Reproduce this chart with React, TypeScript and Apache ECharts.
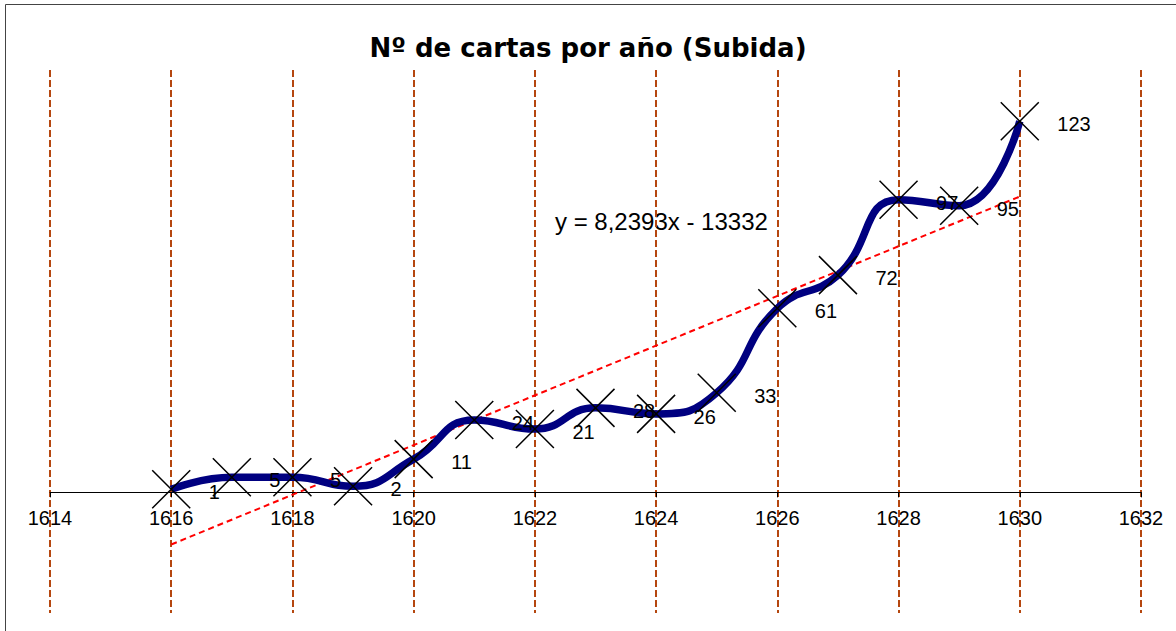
import React, { useEffect, useRef } from "react";
import * as echarts from "echarts";

const years = [1616, 1617, 1618, 1619, 1620, 1621, 1622, 1623, 1624, 1625, 1626, 1627, 1628, 1629, 1630];
const cartas = [1, 5, 5, 2, 11, 24, 21, 28, 26, 33, 61, 72, 97, 95, 123];
const trendSlope = 8.2393;
const trendIntercept = -13332;
const trendText = "y = 8,2393x - 13332";
const titleText = "Nº de cartas por año (Subida)";
const yMin = -40;
const yMax = 140;

export default function App() {
  const ref = useRef<HTMLDivElement>(null);
  useEffect(() => {
    if (!ref.current) return;
    const chart = echarts.init(ref.current, null, { renderer: "svg" });
    const pts = years.map((y, i) => [y, cartas[i]]);
    const x0 = years[0];
    const x1 = years[years.length - 1];
    const trend = [
      [x0, trendSlope * x0 + trendIntercept],
      [x1, trendSlope * x1 + trendIntercept],
    ];
    const gridTop = 70;
    const gridBottom = 18;
    const plotH = 631 - gridTop - gridBottom;
    const zeroOffset = (plotH * (0 - yMin)) / (yMax - yMin);
    chart.setOption({
      animation: false,
      backgroundColor: "#ffffff",
      title: {
        text: titleText,
        left: "center",
        top: 30,
        textStyle: { fontFamily: "DejaVu Sans", fontWeight: "bold", fontSize: 26, color: "#000" },
      },
      grid: { left: 50, right: 35, top: gridTop, bottom: gridBottom, outerBoundsMode: "none", containLabel: false },
      xAxis: {
        type: "value",
        min: 1614,
        max: 1632,
        interval: 2,
        position: "bottom",
        offset: -zeroOffset,
        axisLine: { show: true, onZero: false, lineStyle: { color: "#000", width: 1 } },
        axisTick: { show: true, length: 5, lineStyle: { color: "#000" } },
        axisLabel: {
          color: "#000",
          fontFamily: "Liberation Sans",
          fontSize: 20,
          margin: 16,
          formatter: (v: number) => String(v),
        },
        splitLine: {
          show: true,
          lineStyle: { color: "#b5470f", width: 2, type: [7, 3] },
        },
      },
      yAxis: {
        type: "value",
        min: yMin,
        max: yMax,
        axisLine: { show: false },
        axisTick: { show: false },
        axisLabel: { show: false },
        splitLine: { show: false },
      },
      graphic: [
        {
          type: "rect",
          shape: { x: 5.5, y: 4.5, width: 1200, height: 700 },
          style: { fill: "none", stroke: "#444", lineWidth: 1 },
          silent: true,
        },
        {
          type: "text",
          left: 555,
          top: 209,
          style: { text: trendText, fill: "#000", fontFamily: "Liberation Sans", fontSize: 24 },
        },
      ],
      series: [
        {
          type: "line",
          data: trend,
          showSymbol: false,
          symbol: "none",
          lineStyle: { color: "#ff0000", width: 2, type: [6, 4] },
          z: 3,
        },
        {
          type: "line",
          data: pts,
          smooth: 0.5,
          symbol: "path://M0,0L10,10M10,0L0,10",
          symbolSize: 38,
          lineStyle: { color: "#000080", width: 7.5 },
          itemStyle: { color: "none", borderColor: "#000", borderWidth: 1.5 },
          label: {
            show: true,
            position: "right",
            distance: 16,
            offset: [0, 3],
            color: "#000",
            fontFamily: "Liberation Sans",
            fontSize: 20,
          },
          z: 4,
        },
      ],
    });
    return () => chart.dispose();
  }, []);
  return (
    <div
      ref={ref}
      style={{ position: "absolute", left: 0, top: 0, width: 1176, height: 631 }}
    />
  );
}
